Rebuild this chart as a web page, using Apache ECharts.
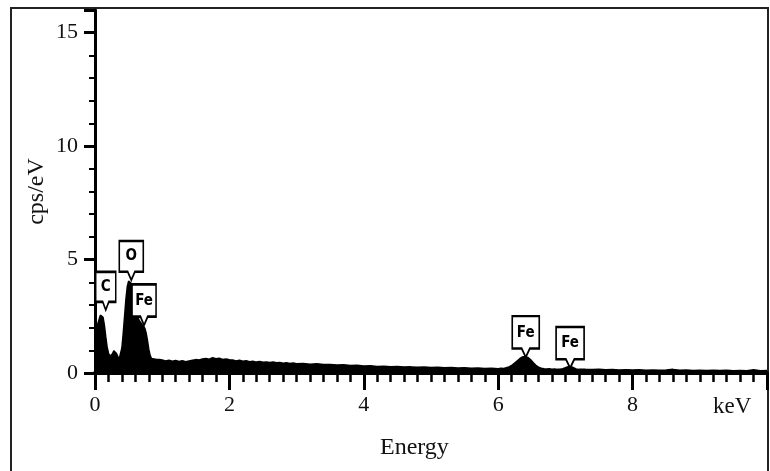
<!DOCTYPE html>
<html>
<head>
<meta charset="utf-8">
<script src="https://cdn.jsdelivr.net/npm/echarts@6/dist/echarts.min.js"></script>
<style>
  html, body { margin: 0; padding: 0; background: #fff; }
  #main { width: 770px; height: 471px; }
</style>
</head>
<body>
<div id="main"></div>
<script>
// EDS spectrum, [keV, cps/eV]
let spectrumLow = [
  [0.00, 1.2], [0.02, 1.9], [0.04, 2.15], [0.06, 2.35], [0.08, 2.55], [0.10, 2.6],
  [0.12, 2.45], [0.14, 2.1], [0.16, 1.6], [0.18, 1.15], [0.20, 0.88], [0.22, 0.74],
  [0.24, 0.7], [0.26, 0.85], [0.28, 0.98], [0.30, 0.95], [0.32, 0.86], [0.34, 0.72],
  [0.36, 0.62], [0.38, 0.7], [0.40, 1.1], [0.42, 1.75], [0.44, 2.5], [0.46, 3.25],
  [0.48, 3.8], [0.50, 4.05], [0.52, 4.1], [0.54, 3.95], [0.56, 3.6], [0.58, 3.15],
  [0.60, 2.8], [0.62, 2.6], [0.64, 2.45], [0.66, 2.3], [0.68, 2.22], [0.70, 2.14],
  [0.72, 2.1], [0.74, 1.98], [0.76, 1.78], [0.78, 1.45], [0.80, 1.05], [0.82, 0.78],
  [0.84, 0.64], [0.86, 0.6], [0.88, 0.62], [0.90, 0.57], [0.92, 0.6], [0.94, 0.56],
  [0.96, 0.59], [0.98, 0.55], [1.00, 0.57]
]
let spectrumMid = [
  [1.05, 0.53], [1.10, 0.56], [1.15, 0.52], [1.20, 0.55], [1.25, 0.51], [1.30, 0.54],
  [1.35, 0.50], [1.40, 0.53], [1.45, 0.56], [1.50, 0.59], [1.55, 0.57], [1.60, 0.62],
  [1.65, 0.64], [1.70, 0.61], [1.75, 0.67], [1.80, 0.63], [1.85, 0.65], [1.90, 0.60],
  [1.95, 0.62], [2.00, 0.58], [2.05, 0.57], [2.10, 0.53], [2.15, 0.56], [2.20, 0.52],
  [2.25, 0.54], [2.30, 0.50], [2.35, 0.52], [2.40, 0.48], [2.45, 0.51], [2.50, 0.47],
  [2.55, 0.49], [2.60, 0.46], [2.65, 0.48], [2.70, 0.45], [2.75, 0.46], [2.80, 0.43],
  [2.85, 0.45], [2.90, 0.42], [2.95, 0.44], [3.00, 0.41]
]
let spectrumTail = [
  [3.1, 0.42], [3.2, 0.39], [3.3, 0.41], [3.4, 0.37], [3.5, 0.38], [3.6, 0.35],
  [3.7, 0.36], [3.8, 0.33], [3.9, 0.34], [4.0, 0.31], [4.1, 0.32], [4.2, 0.29],
  [4.3, 0.30], [4.4, 0.28], [4.5, 0.29], [4.6, 0.26], [4.7, 0.27], [4.8, 0.25],
  [4.9, 0.26], [5.0, 0.24], [5.1, 0.25], [5.2, 0.23], [5.3, 0.24], [5.4, 0.22],
  [5.5, 0.23], [5.6, 0.21], [5.7, 0.22], [5.8, 0.20], [5.9, 0.21], [6.0, 0.19]
]
let spectrumFe = [
  [6.04, 0.21], [6.08, 0.20], [6.12, 0.23], [6.16, 0.27], [6.20, 0.33], [6.24, 0.43],
  [6.28, 0.53], [6.32, 0.63], [6.36, 0.71], [6.40, 0.73], [6.44, 0.69], [6.48, 0.59],
  [6.52, 0.46], [6.56, 0.34], [6.60, 0.26], [6.64, 0.21], [6.68, 0.19], [6.72, 0.18],
  [6.76, 0.19], [6.80, 0.17], [6.84, 0.18], [6.88, 0.16], [6.92, 0.17], [6.96, 0.19],
  [7.00, 0.23], [7.04, 0.28], [7.08, 0.29], [7.12, 0.23], [7.16, 0.18], [7.20, 0.16],
  [7.24, 0.17]
]
let spectrumHigh = [
  [7.3, 0.16], [7.4, 0.15], [7.5, 0.17], [7.6, 0.14], [7.7, 0.15], [7.8, 0.13],
  [7.9, 0.14], [8.0, 0.13], [8.1, 0.14], [8.2, 0.12], [8.3, 0.13], [8.4, 0.12],
  [8.5, 0.13], [8.6, 0.16], [8.7, 0.12], [8.8, 0.13], [8.9, 0.11], [9.0, 0.12],
  [9.1, 0.11], [9.2, 0.12], [9.3, 0.11], [9.4, 0.12], [9.5, 0.10], [9.6, 0.11],
  [9.7, 0.10], [9.8, 0.14], [9.9, 0.10], [10.0, 0.11]
]

// peak annotations
let peakNames = ["C", "O", "Fe", "Fe", "Fe"]
let peakEnergy = [0.16, 0.54, 0.73, 6.41, 7.07]
let peakTip = [2.78, 4.1, 2.1, 0.7, 0.22]
let boxSizes = [[20, 38], [24, 39], [24, 41], [27, 41], [28, 41]]

let spectrum = [].concat(spectrumLow, spectrumMid, spectrumTail, spectrumFe, spectrumHigh)

let serif = "Liberation Serif"
let bubble = "path://M0,0 L20,0 L20,26 L13,26 L10,33 L7,26 L0,26 Z"

let marks = peakNames.map((n, i) => ({
  name: n,
  coord: [peakEnergy[i], peakTip[i]],
  symbolSize: boxSizes[i],
  label: { offset: [0, -Math.round(boxSizes[i][1] * 0.1)] }
}))

var myChart = echarts.init(document.getElementById('main'))

var option = {
  animation: false,
  backgroundColor: '#fff',
  title: {
    text: 'Energy',
    left: 375,
    top: 431,
    textStyle: { fontFamily: serif, fontSize: 24, fontWeight: 'normal', color: '#111' }
  },
  graphic: [{
    type: 'rect',
    shape: { x: 11, y: 8, width: 757, height: 480 },
    style: { fill: 'none', stroke: '#222', lineWidth: 2 },
    silent: true
  }],
  grid: { left: 95, right: 2, top: 10, bottom: 98 },
  xAxis: {
    type: 'value',
    min: 0,
    max: 10,
    interval: 2,
    name: 'keV',
    nameLocation: 'end',
    nameGap: -54,
    nameTextStyle: {
      fontFamily: serif, fontSize: 23, color: '#111',
      align: 'left', verticalAlign: 'top', padding: [22, 0, 0, 0]
    },
    axisLine: { onZero: false, lineStyle: { color: '#000', width: 4 } },
    axisTick: { length: 17, lineStyle: { color: '#000', width: 3 } },
    minorTick: { show: true, splitNumber: 10, length: 9, lineStyle: { color: '#000', width: 2.5 } },
    axisLabel: {
      margin: 21,
      fontFamily: serif, fontSize: 22, color: '#111',
      formatter: v => (v === 10 ? '' : v)
    },
    splitLine: { show: false }
  },
  yAxis: {
    type: 'value',
    min: 0,
    max: 16,
    interval: 5,
    name: 'cps/eV',
    nameLocation: 'middle',
    nameGap: 46,
    nameMoveOverlap: false,
    nameTextStyle: { fontFamily: serif, fontSize: 24, color: '#111' },
    axisLine: { show: true, lineStyle: { color: '#000', width: 3 } },
    axisTick: { length: 11, lineStyle: { color: '#000', width: 3 } },
    minorTick: { show: true, splitNumber: 5, length: 6, lineStyle: { color: '#000', width: 2 } },
    axisLabel: {
      margin: 17,
      fontFamily: serif, fontSize: 22, color: '#111',
      formatter: v => (v % 5 === 0 ? v : '')
    },
    splitLine: { show: false }
  },
  series: [{
    type: 'line',
    data: spectrum,
    symbol: 'none',
    lineStyle: { color: '#000', width: 1.5 },
    areaStyle: { color: '#000', opacity: 1 },
    markPoint: {
      symbol: bubble,
      symbolOffset: [0, '-50%'],
      itemStyle: { color: '#fff', borderColor: '#000', borderWidth: 2 },
      label: {
        show: true,
        position: 'inside',
        formatter: '{b}',
        color: '#000',
        fontFamily: 'DejaVu Sans Condensed',
        fontWeight: 'bold',
        fontSize: 15
      },
      data: marks
    }
  }]
}

myChart.setOption(option)
</script>
</body>
</html>
